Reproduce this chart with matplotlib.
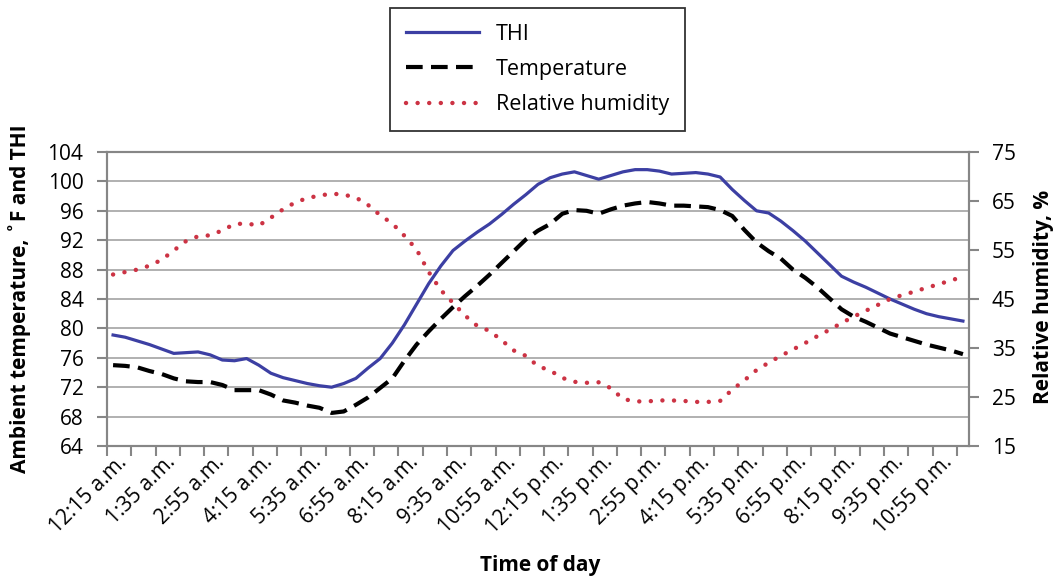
import matplotlib
matplotlib.use('Agg')
import matplotlib.pyplot as plt
import matplotlib.transforms as mtransforms
import numpy as np

plt.rcParams['font.family'] = ['Open Sans', 'DejaVu Sans']

# readings every 20 min, 12:15 a.m. .. 11:35 p.m.
thi = [79.1, 78.8, 78.3, 77.8, 77.2, 76.6, 76.7, 76.8, 76.4, 75.7,
       75.6, 75.9, 75.0, 73.9, 73.3, 72.9, 72.5, 72.2, 72.0, 72.5,
       73.2, 74.6, 75.9, 78.0, 80.5, 83.3, 86.1, 88.5, 90.6, 91.9,
       93.1, 94.2, 95.5, 96.9, 98.2, 99.6, 100.5, 101.0, 101.3, 100.8,
       100.3, 100.8, 101.3, 101.6, 101.6, 101.4, 101.0, 101.1, 101.2, 101.0,
       100.6, 98.9, 97.4, 96.0, 95.7, 94.6, 93.3, 91.9, 90.3, 88.7,
       87.1, 86.3, 85.6, 84.8, 84.0, 83.3, 82.6, 82.0, 81.6, 81.3,
       81.0]
temperature = [75.0, 74.9, 74.7, 74.2, 73.8, 73.2, 72.8, 72.7, 72.7, 72.3,
               71.6, 71.6, 71.6, 71.0, 70.2, 69.9, 69.5, 69.2, 68.5, 68.7,
               69.6, 70.6, 71.9, 73.2, 75.6, 77.8, 79.6, 81.3, 82.9, 84.4,
               85.8, 87.3, 88.9, 90.5, 92.1, 93.3, 94.2, 95.6, 96.1, 96.0,
               95.6, 96.2, 96.7, 97.0, 97.2, 97.0, 96.7, 96.7, 96.6, 96.5,
               96.1, 95.3, 93.4, 91.7, 90.5, 89.5, 88.0, 86.9, 85.6, 84.1,
               82.6, 81.6, 80.9, 80.1, 79.3, 78.8, 78.3, 77.8, 77.4, 77.0,
               76.5]
humidity = [50.0, 50.5, 51.0, 51.8, 53.0, 54.9, 56.8, 57.8, 58.0, 59.0,
            60.3, 60.4, 60.0, 61.6, 63.3, 64.7, 65.6, 66.1, 66.5, 66.3,
            65.7, 64.2, 62.1, 60.4, 57.9, 55.1, 50.5, 46.8, 44.2, 41.6,
            39.5, 38.5, 36.6, 34.5, 33.4, 31.3, 30.4, 28.9, 28.1, 27.9,
            28.0, 26.8, 24.6, 24.1, 24.1, 24.3, 24.3, 24.2, 24.0, 24.0,
            24.2, 26.5, 28.4, 30.5, 32.0, 33.4, 34.7, 36.0, 37.4, 38.7,
            40.1, 41.4, 42.6, 43.8, 45.0, 45.8, 46.5, 47.3, 48.0, 48.8,
            49.5]
time_labels = ['12:15 a.m.', '1:35 a.m.', '2:55 a.m.', '4:15 a.m.', '5:35 a.m.',
               '6:55 a.m.', '8:15 a.m.', '9:35 a.m.', '10:55 a.m.', '12:15 p.m.',
               '1:35 p.m.', '2:55 p.m.', '4:15 p.m.', '5:35 p.m.', '6:55 p.m.',
               '8:15 p.m.', '9:35 p.m.', '10:55 p.m.']

x = np.arange(len(thi))
grey = '#868686'
fs = 15

fig = plt.figure(figsize=(10.57, 5.86), dpi=100)
ax = fig.add_axes([107 / 1057, 140 / 586, 862 / 1057, 294 / 586])
ax2 = ax.twinx()

l1, = ax.plot(x, thi, color='#3c3fa3', lw=2.3, label='THI')
l2, = ax.plot(x, temperature, color='black', lw=3, dashes=(4, 2), label='Temperature')
l3, = ax2.plot(x, humidity, color='#cc3344', lw=3.2, linestyle=(0, (0.01, 2.6)),
               dash_capstyle='round', label='Relative humidity')

ax.set_xlim(-0.5, len(thi) - 0.5)
ax.set_ylim(64, 104)
ax.set_yticks(np.arange(64, 105, 4))
ax2.set_ylim(15, 75)
ax2.set_yticks(np.arange(15, 76, 10))
ax.yaxis.grid(True, color='#aaaaaa', lw=1.3)
ax.set_axisbelow(True)

ax.set_xticks(x[::4], time_labels, rotation=45, ha='right', rotation_mode='anchor')
ax.set_xticks(np.arange(-0.5, len(thi), 2), minor=True)
ax.tick_params(axis='x', which='major', length=0, pad=4, labelsize=fs)
ax.tick_params(axis='x', which='minor', length=7.5, width=1.5, color=grey, direction='out')
ax.tick_params(axis='y', length=7.5, width=1.5, color=grey, labelsize=fs, pad=9.5)
ax2.tick_params(axis='y', length=7.5, width=1.5, color=grey, labelsize=fs, pad=9)
off = mtransforms.ScaledTranslation(2.5 / 72, 0, fig.dpi_scale_trans)
for lab in ax.get_xticklabels():
    lab.set_transform(lab.get_transform() + off)

for a in (ax, ax2):
    for s in a.spines.values():
        s.set_color(grey)
        s.set_linewidth(1.5)

fig.text(20 / 1057, 1 - 299 / 586, 'Ambient temperature, ˚F and THI', rotation=90,
         ha='center', va='center', fontsize=fs, fontweight='bold')
fig.text(1043 / 1057, 1 - 297 / 586, 'Relative humidity, %', rotation=90,
         ha='center', va='center', fontsize=fs, fontweight='bold')
fig.text(540 / 1057, 1 - 565 / 586, 'Time of day', ha='center', va='center',
         fontsize=fs, fontweight='bold')

leg = fig.legend(handles=[l1, l2, l3], loc='upper center',
                 bbox_to_anchor=(537.5 / 1057, 1 - 8 / 586), borderaxespad=0,
                 fontsize=15.5, frameon=True, fancybox=False, edgecolor='black',
                 handlelength=3.4, handletextpad=0.8, labelspacing=0.67, borderpad=0.72)
leg.get_frame().set_linewidth(1.3)

plt.savefig('out.png', dpi=100)
